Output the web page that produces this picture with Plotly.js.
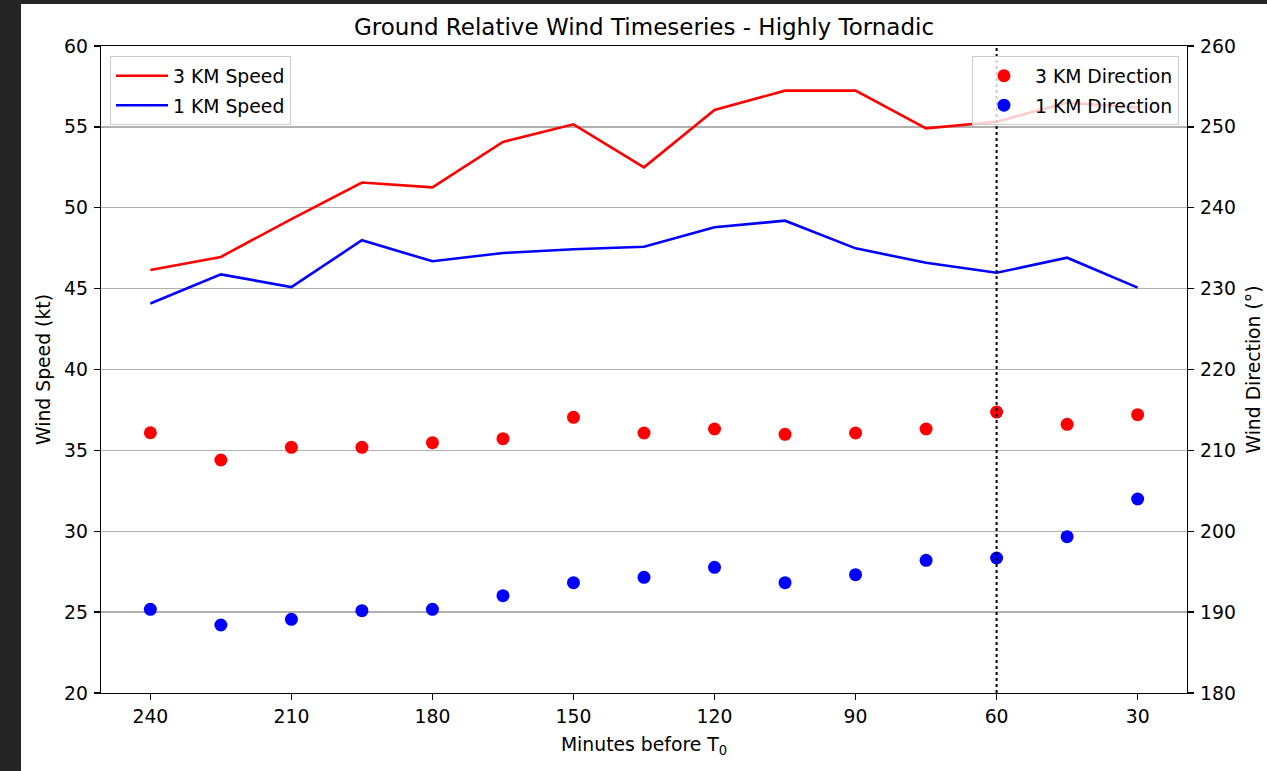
<!DOCTYPE html>
<html>
<head>
<meta charset="utf-8">
<script src="https://cdn.plot.ly/plotly-3.0.1.min.js"></script>
<style>
  html, body { margin: 0; padding: 0; background: #252526; width: 1267px; height: 771px; overflow: hidden; }
  #chart { position: absolute; left: 21px; top: 4px; width: 1246px; height: 767px; background: #ffffff; }
</style>
</head>
<body>
<div id="chart"></div>
<script>
// Minutes before T0
const minutes = [240, 225, 210, 195, 180, 165, 150, 135, 120, 105, 90, 75, 60, 45, 30];
// Wind speed (kt)
const speed3km = [46.15, 46.96, 49.3, 51.56, 51.26, 54.07, 55.16, 52.5, 56.04, 57.24, 57.24, 54.91, 55.32, 56.5, 56.2];
const speed1km = [44.08, 45.88, 45.1, 47.99, 46.69, 47.2, 47.43, 47.59, 48.79, 49.2, 47.49, 46.6, 45.98, 46.91, 45.06];
// Wind direction (degrees)
const dir3km = [212.18, 208.81, 210.38, 210.38, 210.95, 211.45, 214.09, 212.15, 212.64, 211.98, 212.15, 212.64, 214.74, 213.22, 214.41];
const dir1km = [190.35, 188.41, 189.11, 190.18, 190.35, 192.03, 193.64, 194.3, 195.54, 193.64, 194.63, 196.41, 196.69, 199.33, 203.99];
const xTicks = [240, 210, 180, 150, 120, 90, 60, 30];
const markerTime = 60;

const font = { family: 'DejaVu Sans', size: 18.8, color: '#000000' };

const traces = [
  { x: minutes, y: speed3km, type: 'scatter', mode: 'lines', name: '3 KM Speed',
    line: { color: '#ff0000', width: 2.6 }, yaxis: 'y', legend: 'legend', legendgroup: 'a' },
  { x: minutes, y: speed1km, type: 'scatter', mode: 'lines', name: '1 KM Speed',
    line: { color: '#0000ff', width: 2.6 }, yaxis: 'y', legend: 'legend', legendgroup: 'b' },
  { x: minutes, y: dir3km, type: 'scatter', mode: 'markers', name: '3 KM Direction',
    marker: { color: '#ff0000', size: 13 }, yaxis: 'y2', legend: 'legend2', legendgroup: 'c' },
  { x: minutes, y: dir1km, type: 'scatter', mode: 'markers', name: '1 KM Direction',
    marker: { color: '#0000ff', size: 13 }, yaxis: 'y2', legend: 'legend2', legendgroup: 'd' }
];

const layout = {
  width: 1246, height: 767,
  paper_bgcolor: '#ffffff', plot_bgcolor: '#ffffff',
  font: font,
  margin: { l: 80, r: 80, t: 42, b: 78 },
  showlegend: true,
  title: { text: 'Ground Relative Wind Timeseries - Highly Tornadic', font: { family: 'DejaVu Sans', size: 23, color: '#000' },
           x: 0.5, xref: 'paper', xanchor: 'center', y: 1, yref: 'paper', yanchor: 'bottom', pad: { b: 11 } },
  xaxis: {
    range: [250.5, 19.5], tickvals: xTicks, ticktext: xTicks.map(String),
    showgrid: false, zeroline: false, showline: true, linecolor: '#000', linewidth: 1.3, mirror: true,
    ticks: 'outside', ticklen: 6, tickwidth: 1.3, tickcolor: '#000', tickfont: font,
    title: { text: 'Minutes before T<sub>0</sub>', font: font, standoff: 12 }
  },
  yaxis: {
    range: [20, 60], dtick: 5, tick0: 20,
    showgrid: true, gridcolor: '#b0b0b0', gridwidth: 1.3, zeroline: false,
    showline: true, linecolor: '#000', linewidth: 1.3, mirror: true,
    ticks: 'outside', ticklen: 6, tickwidth: 1.3, tickcolor: '#000', tickfont: font,
    ticklabelstandoff: 2,
    title: { text: 'Wind Speed (kt)', font: font, standoff: 8 }
  },
  yaxis2: {
    range: [180, 260], dtick: 10, tick0: 180, overlaying: 'y', side: 'right',
    showgrid: false, zeroline: false, showline: true, linecolor: '#000', linewidth: 1.3,
    ticks: 'outside', ticklen: 6, tickwidth: 1.3, tickcolor: '#000', tickfont: font,
    ticklabelstandoff: 2,
    title: { text: 'Wind Direction (°)', font: font, standoff: 12 }
  },
  legend: {
    x: 0.0083, y: 0.9845, xanchor: 'left', yanchor: 'top', xref: 'paper', yref: 'paper',
    bgcolor: 'rgba(255,255,255,0.8)', bordercolor: '#cccccc', borderwidth: 1,
    font: font, traceorder: 'grouped', tracegroupgap: 2, itemwidth: 52
  },
  legend2: {
    x: 0.9926, y: 0.9845, xanchor: 'right', yanchor: 'top', xref: 'paper', yref: 'paper',
    bgcolor: 'rgba(255,255,255,0.8)', bordercolor: '#cccccc', borderwidth: 1,
    font: font, traceorder: 'grouped', tracegroupgap: 2, itemwidth: 52
  },
  shapes: [
    { type: 'line', xref: 'x', yref: 'paper', x0: markerTime, x1: markerTime, y0: 0, y1: 1,
      line: { color: '#000', width: 2, dash: 'dot' }, layer: 'above' }
  ]
};

Plotly.newPlot('chart', traces, layout, { displayModeBar: false, staticPlot: true });
</script>
</body>
</html>
